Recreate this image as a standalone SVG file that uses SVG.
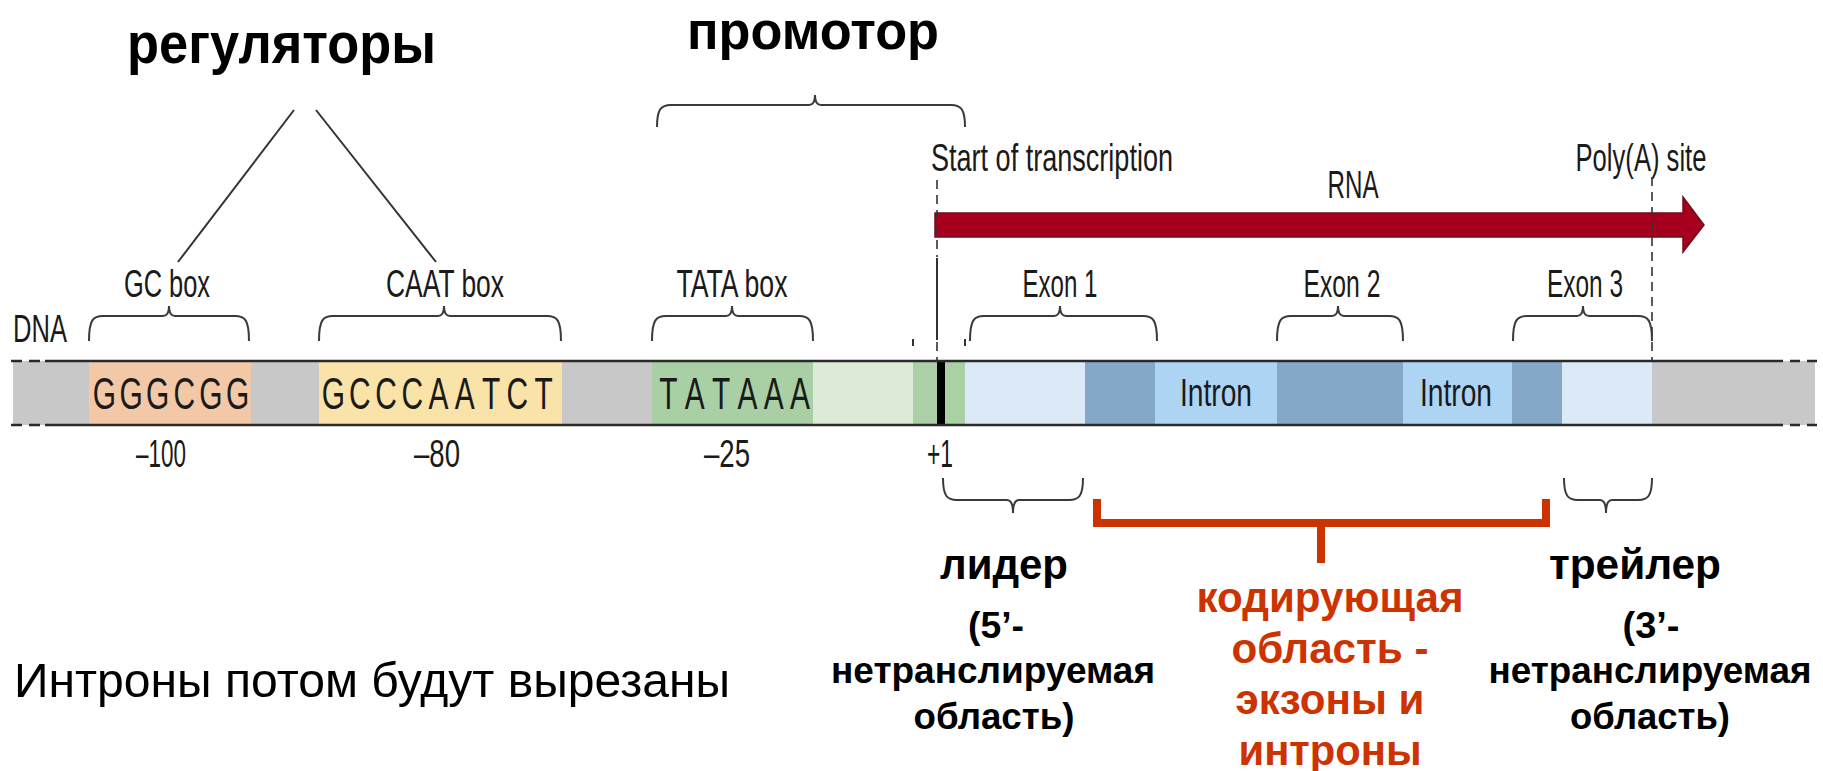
<svg xmlns="http://www.w3.org/2000/svg" width="1823" height="771" viewBox="0 0 1823 771">
<style>
.lbl{font-family:"Liberation Sans",Arial,sans-serif;font-size:38px;fill:#1a1a1a;text-anchor:middle}
.num{font-family:"Liberation Sans",Arial,sans-serif;font-size:38px;fill:#1a1a1a;text-anchor:middle}
.seq{font-family:"Liberation Sans",Arial,sans-serif;font-size:44px;fill:#1a1a1a;text-anchor:middle}
.ttl{font-family:"Liberation Sans",Arial,sans-serif;font-weight:bold;fill:#000}
.blk{font-family:"Liberation Sans",Arial,sans-serif;font-weight:bold;fill:#000;text-anchor:middle}
.red{font-family:"Liberation Sans",Arial,sans-serif;font-weight:bold;font-size:42px;fill:#CC3300;text-anchor:middle}
.brace{fill:none;stroke:#3a3a3a;stroke-width:2}
.line{stroke:#333;stroke-width:2;fill:none}
.dash{stroke:#333;stroke-width:1.6;stroke-dasharray:9 6;fill:none}
.edge{stroke:#2a2a2a;stroke-width:2.5}
</style>
<rect width="1823" height="771" fill="#fff"/>

<g id="title-regulators"><text class="ttl" x="127" y="63" font-size="58" textLength="309" lengthAdjust="spacingAndGlyphs">регуляторы</text></g>
<g id="title-promoter"><text class="ttl" x="687" y="49" font-size="54" textLength="252" lengthAdjust="spacingAndGlyphs">промотор</text></g>

<g id="dna-bar">
<rect x="13" y="361" width="1802" height="64" fill="#C8C8C8"/>
<rect x="89" y="361" width="162" height="64" fill="#F3C8A6"/>
<rect x="319" y="361" width="243" height="64" fill="#F9E3A8"/>
<rect x="652" y="361" width="161" height="64" fill="#A9D0A4"/>
<rect x="813" y="361" width="100" height="64" fill="#DCEBD8"/>
<rect x="913" y="361" width="52" height="64" fill="#ABD0A6"/>
<rect x="937" y="361" width="8" height="64" fill="#000"/>
<rect x="965" y="361" width="120" height="64" fill="#DCEAF8"/>
<rect x="1085" y="361" width="70" height="64" fill="#85A8C8"/>
<rect x="1155" y="361" width="122" height="64" fill="#AED4F4"/>
<rect x="1277" y="361" width="126" height="64" fill="#85A8C8"/>
<rect x="1403" y="361" width="109" height="64" fill="#AED4F4"/>
<rect x="1512" y="361" width="50" height="64" fill="#85A8C8"/>
<rect x="1562" y="361" width="90" height="64" fill="#DCEAF8"/>
<path class="edge" d="M45 361H1783M45 425H1783M11 361H22M29 361H40M11 425H22M29 425H40M1790 361H1800M1807 361H1817M1790 425H1800M1807 425H1817"/>
<text class="lbl" x="40" y="342" textLength="54" lengthAdjust="spacingAndGlyphs">DNA</text>
</g>

<g id="gc-box">
<text class="lbl" x="167" y="297" textLength="86" lengthAdjust="spacingAndGlyphs">GC box</text>
<text class="seq" transform="scale(0.68 1)" x="153.7 192.8 231.9 271.0 310.1 349.3" y="409">GGGCGG</text>
<text class="num" x="161" y="467" textLength="50" lengthAdjust="spacingAndGlyphs">–100</text>
</g>
<g id="caat-box">
<text class="lbl" x="445" y="297" textLength="118" lengthAdjust="spacingAndGlyphs">CAAT box</text>
<text class="seq" transform="scale(0.68 1)" x="490.4 529.0 567.6 606.3 644.9 683.5 722.1 760.7 799.3" y="409">GCCCAATCT</text>
<text class="num" x="437" y="467" textLength="46" lengthAdjust="spacingAndGlyphs">–80</text>
</g>
<g id="tata-box">
<text class="lbl" x="732" y="297" textLength="111" lengthAdjust="spacingAndGlyphs">TATA box</text>
<text class="seq" transform="scale(0.68 1)" x="983.1 1021.8 1060.4 1099.1 1137.8 1176.5" y="409">TATAAA</text>
<text class="num" x="727" y="467" textLength="46" lengthAdjust="spacingAndGlyphs">–25</text>
</g>
<g id="start">
<text class="lbl" x="1052" y="171" textLength="242" lengthAdjust="spacingAndGlyphs">Start of transcription</text>
<text class="num" x="940" y="467" textLength="26" lengthAdjust="spacingAndGlyphs">+1</text>
</g>
<g id="rna">
<path d="M935 213H1683V197L1704 225L1683 252V237H935Z" fill="#A6001E" stroke="#6d0d18" stroke-width="1.5"/>
<text class="lbl" x="1353" y="198" textLength="51" lengthAdjust="spacingAndGlyphs">RNA</text>
</g>
<g id="polya">
<text class="lbl" x="1641" y="171" textLength="131" lengthAdjust="spacingAndGlyphs">Poly(A) site</text>
</g>
<g id="exons">
<text class="lbl" x="1060" y="297" textLength="75" lengthAdjust="spacingAndGlyphs">Exon 1</text>
<text class="lbl" x="1342" y="297" textLength="77" lengthAdjust="spacingAndGlyphs">Exon 2</text>
<text class="lbl" x="1585" y="297" textLength="76" lengthAdjust="spacingAndGlyphs">Exon 3</text>
</g>
<g id="introns">
<text class="lbl" x="1216" y="406" font-size="34" textLength="72" lengthAdjust="spacingAndGlyphs">Intron</text>
<text class="lbl" x="1456" y="406" font-size="34" textLength="72" lengthAdjust="spacingAndGlyphs">Intron</text>
</g>

<g id="leader">
<text class="blk" x="1004" y="579" font-size="43" textLength="128" lengthAdjust="spacingAndGlyphs">лидер</text>
<text class="blk" x="996" y="638" font-size="37" textLength="56" lengthAdjust="spacingAndGlyphs">(5’-</text>
<text class="blk" x="993" y="683" font-size="37" textLength="324" lengthAdjust="spacingAndGlyphs">нетранслируемая</text>
<text class="blk" x="994" y="729" font-size="37" textLength="161" lengthAdjust="spacingAndGlyphs">область)</text>
</g>
<g id="trailer">
<text class="blk" x="1635" y="579" font-size="43" textLength="172" lengthAdjust="spacingAndGlyphs">трейлер</text>
<text class="blk" x="1651" y="638" font-size="37" textLength="57" lengthAdjust="spacingAndGlyphs">(3’-</text>
<text class="blk" x="1650" y="683" font-size="37" textLength="323" lengthAdjust="spacingAndGlyphs">нетранслируемая</text>
<text class="blk" x="1650" y="729" font-size="37" textLength="160" lengthAdjust="spacingAndGlyphs">область)</text>
</g>
<g id="coding">
<path d="M1097 499V523H1546V499M1321 523V563" fill="none" stroke="#CC3300" stroke-width="8"/>
<text class="red" x="1330" y="612" textLength="267" lengthAdjust="spacingAndGlyphs">кодирующая</text>
<text class="red" x="1330" y="663" textLength="197" lengthAdjust="spacingAndGlyphs">область -</text>
<text class="red" x="1330" y="714" textLength="189" lengthAdjust="spacingAndGlyphs">экзоны и</text>
<text class="red" x="1330" y="765" textLength="183" lengthAdjust="spacingAndGlyphs">интроны</text>
</g>
<g id="note">
<text x="14" y="697" font-family="Liberation Sans, Arial, sans-serif" font-size="48" fill="#000" textLength="716" lengthAdjust="spacingAndGlyphs">Интроны потом будут вырезаны</text>
</g>

<g id="connectors">
<line class="line" x1="294" y1="110" x2="178" y2="262"/>
<line class="line" x1="316" y1="110" x2="436" y2="262"/>
<path class="dash" d="M937 180V257"/>
<path class="line" d="M937 258V340" stroke-width="1.6"/>
<path class="dash" d="M937 342V361" stroke-dasharray="6 5"/>
<path class="dash" d="M1652 177V361"/>
<path class="line" stroke-width="1.5" d="M913 339V346M965 339V346"/>
<path class="brace" d="M657 127C657 109 661 105 671 105L809 105C813 105 815 102 815 95C815 102 817 105 821 105L951 105C961 105 965 109 965 127"/>
<path class="brace" d="M89 341C89 320 93 316 103 316L163 316C167 316 169 313 169 306C169 313 171 316 175 316L235 316C245 316 249 320 249 341"/>
<path class="brace" d="M319 341C319 320 323 316 333 316L438 316C442 316 444 313 444 306C444 313 446 316 450 316L547 316C557 316 561 320 561 341"/>
<path class="brace" d="M652 341C652 320 656 316 666 316L726 316C730 316 732 313 732 306C732 313 734 316 738 316L799 316C809 316 813 320 813 341"/>
<path class="brace" d="M970 341C970 320 974 316 984 316L1054 316C1058 316 1060 313 1060 306C1060 313 1062 316 1066 316L1143 316C1153 316 1157 320 1157 341"/>
<path class="brace" d="M1277 341C1277 320 1281 316 1291 316L1332 316C1336 316 1338 313 1338 306C1338 313 1340 316 1344 316L1389 316C1399 316 1403 320 1403 341"/>
<path class="brace" d="M1513 341C1513 320 1517 316 1527 316L1577 316C1581 316 1583 313 1583 306C1583 313 1585 316 1589 316L1638 316C1648 316 1652 320 1652 341"/>
<path class="brace" d="M943 478C943 496 947 500 957 500L1007 500C1011 500 1013 503 1013 513C1013 503 1015 500 1019 500L1069 500C1079 500 1083 496 1083 478"/>
<path class="brace" d="M1564 478C1564 496 1568 500 1578 500L1600 500C1604 500 1606 503 1606 513C1606 503 1608 500 1612 500L1638 500C1648 500 1652 496 1652 478"/>
</g>
</svg>
